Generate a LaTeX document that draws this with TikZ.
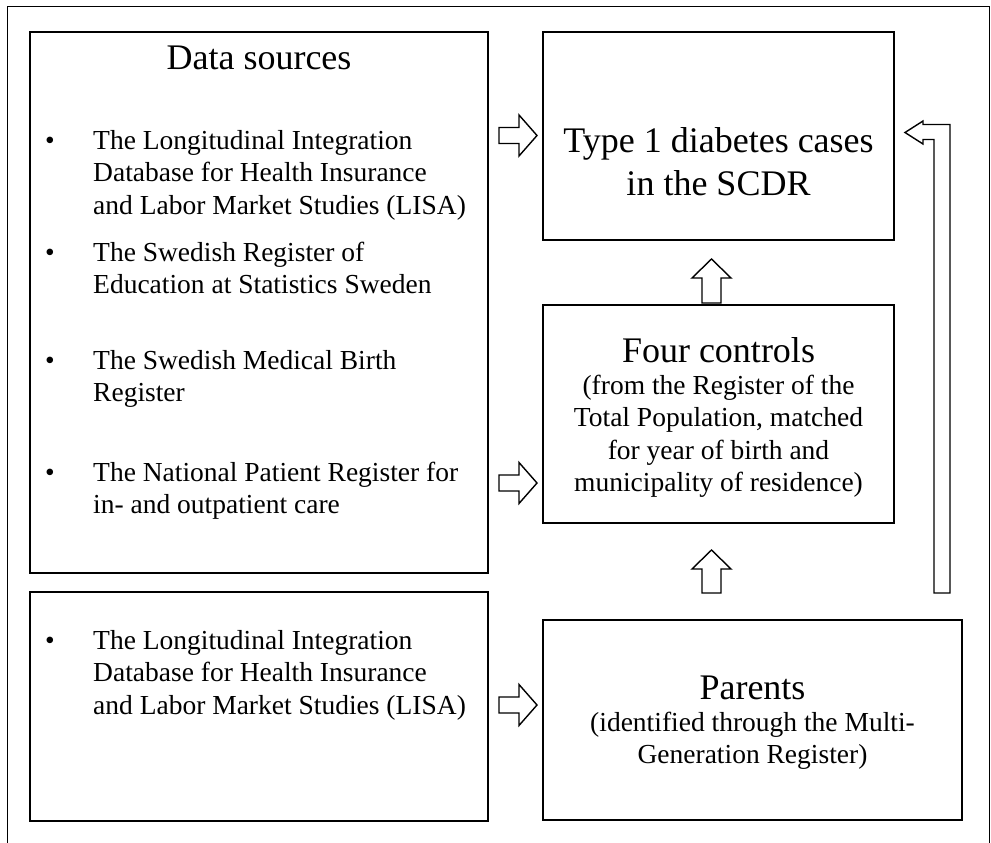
\documentclass[tikz,border=0pt]{standalone}
\usepackage{fontspec}
\setmainfont{Liberation Serif}
\begin{document}
\begin{tikzpicture}[x=1pt,y=-1pt,
  box/.style={draw=black,line width=1.6pt},
  blockarrow/.style={draw=black,line width=1.4pt,fill=white,line join=miter},
  title/.style={anchor=base,inner sep=0pt,font=\fontsize{36}{43}\selectfont},
  body/.style={anchor=base,inner sep=0pt,font=\fontsize{27.5}{32.5}\selectfont},
  item/.style={anchor=base west,inner sep=0pt,font=\fontsize{27.5}{32.5}\selectfont},
  bul/.style={anchor=base,inner sep=0pt,font=\fontsize{27.5}{32.5}\selectfont}]
\useasboundingbox (0,0) rectangle (991,843);
% outer frame (no bottom edge)
\draw[line width=1.5pt] (7.5,843) -- (7.5,6.5) -- (989.5,6.5) -- (989.5,843);
% boxes
\draw[box] (30,32) rectangle (488,573);
\draw[box] (30,592) rectangle (488,821);
\draw[box] (543,32) rectangle (894,240);
\draw[box] (543,305) rectangle (894,523);
\draw[box] (543,620) rectangle (962,820);
% left top box text
\node[title] (ds) at (259,70) {Data sources};
\node[bul] (b1) at (50,149) {•};
\node[item] (i1a) at (93,149) {The Longitudinal Integration};
\node[item] (i1b) at (93,181.5) {Database for Health Insurance};
\node[item] (i1c) at (93,214) {and Labor Market Studies (LISA)};
\node[bul] (b2) at (50,261) {•};
\node[item] (i2a) at (93,261) {The Swedish Register of};
\node[item] (i2b) at (93,293.5) {Education at Statistics Sweden};
\node[bul] (b3) at (50,369) {•};
\node[item] (i3a) at (93,369) {The Swedish Medical Birth};
\node[item] (i3b) at (93,401.5) {Register};
\node[bul] (b4) at (50,481) {•};
\node[item] (i4a) at (93,481) {The National Patient Register for};
\node[item] (i4b) at (93,513.5) {in- and outpatient care};
% left bottom box text
\node[bul] (b5) at (50,649) {•};
\node[item] (i5a) at (93,649) {The Longitudinal Integration};
\node[item] (i5b) at (93,681.5) {Database for Health Insurance};
\node[item] (i5c) at (93,714) {and Labor Market Studies (LISA)};
% right top box
\node[title] (t1a) at (718.5,152) {Type 1 diabetes cases};
\node[title] (t1b) at (718.5,195) {in the SCDR};
% middle box
\node[title] (fc) at (718.5,362) {Four controls};
\node[body] (fc1) at (718.5,394) {(from the Register of the};
\node[body] (fc2) at (718.5,426.5) {Total Population, matched};
\node[body] (fc3) at (718.5,459) {for year of birth and};
\node[body] (fc4) at (718.5,491.5) {municipality of residence)};
% parents box
\node[title] (pa) at (752.5,699) {Parents};
\node[body] (pa1) at (752.5,731) {(identified through the Multi-};
\node[body] (pa2) at (752.5,763.5) {Generation Register)};
% right block arrows
\draw[blockarrow] (499,127.5) -- (519,127.5) -- (519,115) -- (537,135.5) -- (519,156) -- (519,143.5) -- (499,143.5) -- cycle;
\draw[blockarrow] (499,475) -- (519,475) -- (519,462.5) -- (537,483) -- (519,503.5) -- (519,491) -- (499,491) -- cycle;
\draw[blockarrow] (499,697) -- (519,697) -- (519,684.5) -- (537,705) -- (519,725.5) -- (519,713) -- (499,713) -- cycle;
% up block arrows
\draw[blockarrow] (702,303) -- (702,278) -- (692,278) -- (711.5,259) -- (731,278) -- (721,278) -- (721,303) -- cycle;
\draw[blockarrow] (702,593) -- (702,569) -- (692,569) -- (711.5,550) -- (731,569) -- (721,569) -- (721,593) -- cycle;
% elbow arrow
\draw[blockarrow] (905,132.5) -- (923,121) -- (923,124.5) -- (950,124.5) -- (950,593) -- (934,593) -- (934,139.5) -- (923,139.5) -- (923,144) -- cycle;
\end{tikzpicture}
\end{document}
